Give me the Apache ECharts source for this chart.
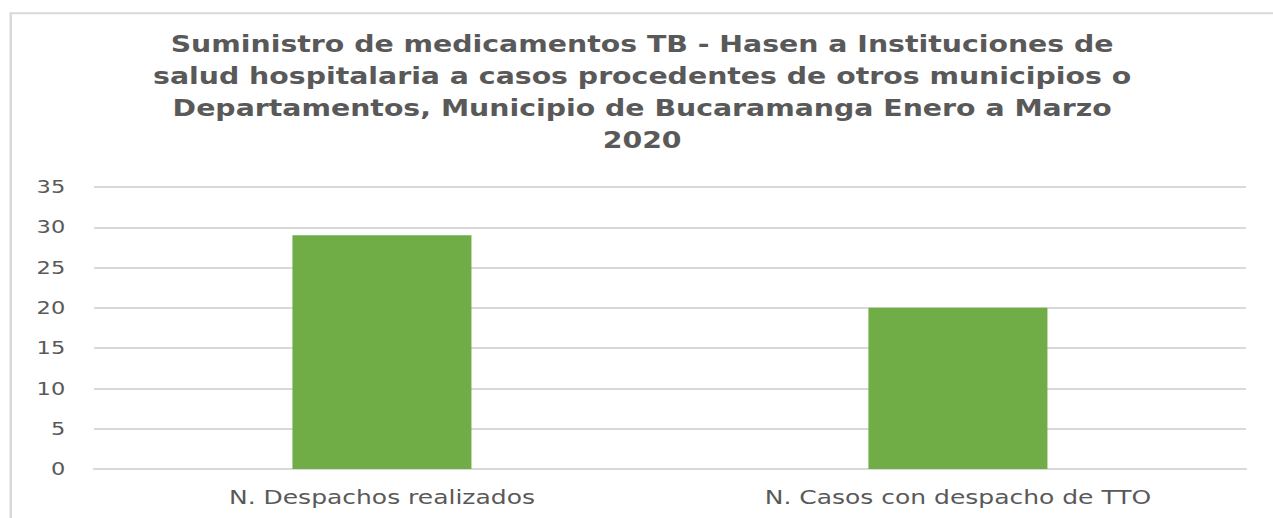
<!DOCTYPE html>
<html>
<head>
<meta charset="utf-8">
<script src="https://cdn.jsdelivr.net/npm/echarts@6/dist/echarts.min.js"></script>
<style>
html,body{margin:0;padding:0;background:#fff;overflow:hidden;}
#wrap{width:1273px;height:518px;overflow:hidden;}
/* The reference picture is horizontally stretched; render narrower and stretch the same way */
#chart{width:1019px;height:518px;transform:scaleX(1.2493);transform-origin:0 0;}
</style>
</head>
<body>
<div id="wrap"><div id="chart"></div></div>
<script>
const titleText = 'Suministro de medicamentos TB - Hasen a Instituciones de\nsalud hospitalaria a casos procedentes de otros municipios o\nDepartamentos, Municipio de Bucaramanga Enero a Marzo\n2020';
const categories = ['N. Despachos realizados', 'N. Casos con despacho de TTO'];
const values = [29, 20];
const yMin = 0, yMax = 35, yStep = 5;

const chart = echarts.init(document.getElementById('chart'), null, {renderer: 'svg'});
chart.setOption({
  backgroundColor: '#fff',
  animation: false,
  graphic: [{
    type: 'rect',
    shape: {x: 8.6, y: 13.3, width: 1100, height: 600},
    style: {fill: 'none', stroke: '#d9d9d9', lineWidth: 2},
    silent: true
  }],
  title: {
    text: titleText,
    left: 509,
    textAlign: 'center',
    top: 23,
    textStyle: {
      fontFamily: 'DejaVu Sans',
      fontWeight: 'bold',
      fontSize: 22.7,
      lineHeight: 32,
      color: '#595959'
    }
  },
  grid: {left: 75.2, right: 21.7, top: 187, bottom: 49, containLabel: false},
  xAxis: {
    type: 'category',
    data: categories,
    axisLine: {show: true, lineStyle: {color: '#d9d9d9', width: 2}},
    axisTick: {show: false},
    axisLabel: {
      fontFamily: 'DejaVu Sans',
      fontSize: 20,
      color: '#595959',
      margin: 18
    }
  },
  yAxis: {
    type: 'value',
    min: yMin, max: yMax, interval: yStep,
    axisLine: {show: false},
    axisTick: {show: false},
    splitLine: {lineStyle: {color: '#d9d9d9', width: 2}},
    axisLabel: {
      fontFamily: 'DejaVu Sans',
      fontSize: 18,
      color: '#595959',
      margin: 23
    }
  },
  series: [{
    type: 'bar',
    data: values,
    barWidth: 143.3,
    itemStyle: {color: '#70ad47'}
  }]
});
</script>
</body>
</html>
